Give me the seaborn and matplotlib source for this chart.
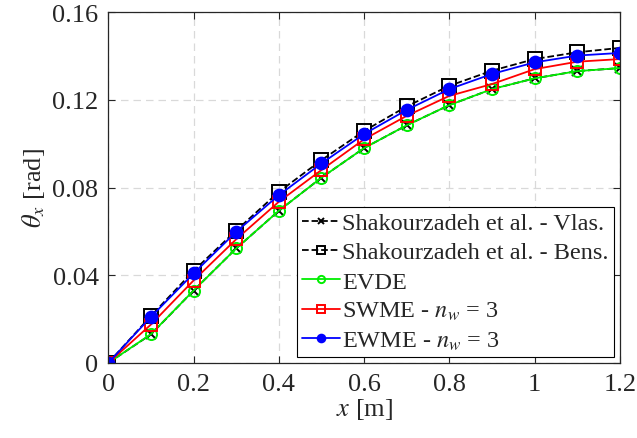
import numpy as np
import pandas as pd
import matplotlib
matplotlib.use("Agg")
import matplotlib.pyplot as plt
import seaborn as sns

# Data
x_pos = [0, 0.1, 0.2, 0.3, 0.4, 0.5, 0.6, 0.7, 0.8, 0.9, 1.0, 1.1, 1.2]

theta_vlas = [0, 0.0130, 0.0330, 0.0522, 0.0694, 0.0845, 0.0980, 0.1084, 0.1176, 0.1249, 0.1298, 0.1331, 0.1345]
theta_bens = [0, 0.0214, 0.0420, 0.0604, 0.0780, 0.0925, 0.1058, 0.1170, 0.1264, 0.1333, 0.1386, 0.1417, 0.1437]
theta_evde = [0, 0.0131, 0.0330, 0.0522, 0.0694, 0.0845, 0.0980, 0.1084, 0.1176, 0.1249, 0.1298, 0.1331, 0.1345]
theta_swme = [0, 0.0175, 0.0376, 0.0564, 0.0735, 0.0880, 0.1020, 0.1127, 0.1218, 0.1272, 0.1340, 0.1374, 0.1386]
theta_ewme = [0, 0.0210, 0.0408, 0.0598, 0.0765, 0.0910, 0.1044, 0.1154, 0.1249, 0.1318, 0.1371, 0.1402, 0.1414]

x_ticks = [0, 0.2, 0.4, 0.6, 0.8, 1.0, 1.2]
x_tick_labels = ["0", "0.2", "0.4", "0.6", "0.8", "1", "1.2"]
y_ticks = [0, 0.04, 0.08, 0.12, 0.16]
y_tick_labels = ["0", "0.04", "0.08", "0.12", "0.16"]

# Style
sns.set_style("ticks")
plt.rcParams["font.family"] = ["Liberation Serif", "DejaVu Serif"]
plt.rcParams["mathtext.fontset"] = "stix"
plt.rcParams["xtick.direction"] = "in"
plt.rcParams["ytick.direction"] = "in"

fig = plt.figure(figsize=(6.37, 4.39), dpi=100)
ax = fig.add_axes([0.17, 0.171, 0.803, 0.799])

series = [
    (theta_vlas, "Shakourzadeh et al. - Vlas.", "black", "--", "x", 7, "black"),
    (theta_bens, "Shakourzadeh et al. - Bens.", "black", "--", "s", 9.5, "none"),
    (theta_evde, "EVDE", "#00ee00", "-", "o", 8, "none"),
    (theta_swme, "SWME - $n_w$ = 3", "#ff0000", "-", "s", 8, "none"),
    (theta_ewme, "EWME - $n_w$ = 3", "#0000ff", "-", "o", 8.5, "#0000ff"),
]

for vals, label, col, ls, mk, ms, mfc in series:
    df = pd.DataFrame({"x": x_pos, "theta": vals})
    sns.lineplot(data=df, x="x", y="theta", ax=ax, label=label, color=col,
                 linestyle=ls, linewidth=1.3, marker=mk, markersize=ms,
                 markerfacecolor=mfc, markeredgecolor=col, markeredgewidth=1.4)

ax.set_xlim(0, 1.2)
ax.set_ylim(0, 0.16)
ax.set_xticks(x_ticks)
ax.set_xticklabels(x_tick_labels)
ax.set_yticks(y_ticks)
ax.set_yticklabels(y_tick_labels)
ax.tick_params(labelsize=19, length=5, width=0.8, color="#262626",
               top=True, right=True, pad=7)

ax.grid(True, linestyle=(0, (6, 4)), color="#d9d9d9", linewidth=0.9)
for s in ax.spines.values():
    s.set_color("#262626")
    s.set_linewidth(0.9)

ax.set_xlabel("$x$ [m]", fontsize=19, labelpad=1)
ax.set_ylabel(r"$\theta_x$ [rad]", fontsize=19, labelpad=4)

leg = ax.legend(loc="lower right", fontsize=17.5, frameon=True, fancybox=False,
                edgecolor="black", framealpha=1, borderaxespad=0.25,
                handlelength=1.55, handletextpad=0.1, borderpad=0.2,
                labelspacing=0.3, markerscale=0.65)
leg.get_frame().set_linewidth(0.8)

fig.savefig("out.png", dpi=100)
